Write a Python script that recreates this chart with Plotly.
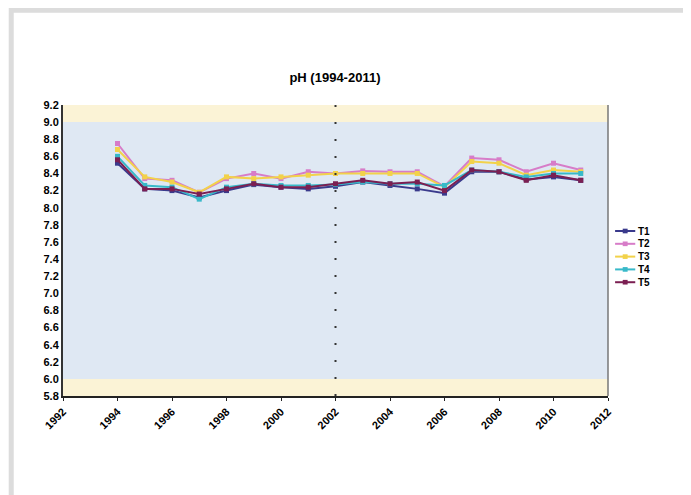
import plotly.graph_objects as go

# pH per station, 1994-2011
YEARS = list(range(1994, 2012))
T1 = [8.52, 8.22, 8.20, 8.12, 8.20, 8.27, 8.24, 8.22, 8.25, 8.30, 8.26, 8.22, 8.17, 8.42, 8.42, 8.33, 8.36, 8.32]
T2 = [8.75, 8.34, 8.32, 8.18, 8.34, 8.40, 8.34, 8.42, 8.40, 8.43, 8.42, 8.42, 8.25, 8.58, 8.56, 8.42, 8.52, 8.44]
T3 = [8.68, 8.36, 8.30, 8.18, 8.36, 8.34, 8.36, 8.38, 8.40, 8.40, 8.40, 8.40, 8.24, 8.54, 8.52, 8.38, 8.44, 8.42]
T4 = [8.60, 8.26, 8.24, 8.10, 8.24, 8.28, 8.26, 8.26, 8.27, 8.30, 8.28, 8.28, 8.26, 8.44, 8.42, 8.36, 8.40, 8.40]
T5 = [8.56, 8.22, 8.22, 8.16, 8.22, 8.28, 8.24, 8.24, 8.28, 8.32, 8.28, 8.30, 8.20, 8.44, 8.42, 8.32, 8.38, 8.32]

SERIES = [("T1", T1, "#3a3a8c"), ("T2", T2, "#d77cc8"), ("T3", T3, "#f2d24a"),
          ("T4", T4, "#38b9c9"), ("T5", T5, "#7b1f52")]

LOW, HIGH = 6.0, 9.0     # normal range band
REF_YEAR = 2002          # dotted reference line

FONT = "Liberation Sans"

fig = go.Figure()
for name, vals, color in SERIES:
    fig.add_trace(go.Scatter(
        x=YEARS, y=vals, name=name, mode="lines+markers",
        line=dict(color=color, width=2),
        marker=dict(symbol="square", size=5, color=color),
        showlegend=False,
    ))

# background bands
fig.add_hrect(y0=5.8, y1=LOW, fillcolor="#fbf3d6", line_width=0, layer="below")
fig.add_hrect(y0=HIGH, y1=9.2, fillcolor="#fbf3d6", line_width=0, layer="below")
fig.add_hrect(y0=LOW, y1=HIGH, fillcolor="#dfe8f3", line_width=0, layer="below")
fig.add_vline(x=REF_YEAR, line=dict(color="#333333", width=2, dash="2px,15px"))

# outer frame of the screenshot
fig.add_shape(type="rect", xref="paper", yref="paper",
              x0=-0.095, x1=1.147, y0=-0.385, y1=1.326,
              line=dict(color="#dcdcdc", width=5))
# right-hand thin axis edge
fig.add_shape(type="line", xref="paper", yref="paper", x0=1, x1=1, y0=0, y1=1,
              line=dict(color="#777777", width=1.5))

# compact legend (plotly's own legend rows are too tall for this chart)
leg_top, leg_step = 0.567, 0.044
for i, (name, vals, color) in enumerate(SERIES):
    yy = leg_top - i * leg_step
    fig.add_shape(type="line", xref="paper", yref="paper",
                  x0=1.013, x1=1.050, y0=yy, y1=yy,
                  line=dict(color=color, width=2))
    fig.add_shape(type="rect", xref="paper", yref="paper",
                  x0=1.027, x1=1.036, y0=yy - 0.008, y1=yy + 0.008,
                  line=dict(width=0), fillcolor=color)
    fig.add_annotation(text=f"<b>{name}</b>", xref="paper", yref="paper",
                       x=1.052, y=yy, xanchor="left", yanchor="middle",
                       showarrow=False, font=dict(size=10, family=FONT))

fig.update_layout(
    width=691, height=495,
    margin=dict(l=55, r=91, t=97, b=107),
    paper_bgcolor="white", plot_bgcolor="white",
    font=dict(family=FONT, color="black", size=11),
    title=dict(text="<b>pH (1994-2011)</b>", x=0.499, xref="paper",
               y=0.859, yanchor="middle", font=dict(size=13)),
    showlegend=False,
)
fig.update_xaxes(range=[1992, 2012], dtick=2, tick0=1992, tickangle=-45,
                 showgrid=False, zeroline=False, showline=True, automargin=False,
                 linecolor="#222222", linewidth=2, ticks="outside",
                 ticklen=3, tickcolor="#222222",
                 tickfont=dict(size=11, family=FONT, weight="bold"))
fig.update_yaxes(range=[5.8, 9.2], dtick=0.2, tick0=5.8, tickformat=".1f",
                 showgrid=False, zeroline=False, showline=True, automargin=False,
                 linecolor="#333333", linewidth=2, ticks="",
                 tickfont=dict(size=11, family=FONT, weight="bold"))

fig.write_html("out.html")
